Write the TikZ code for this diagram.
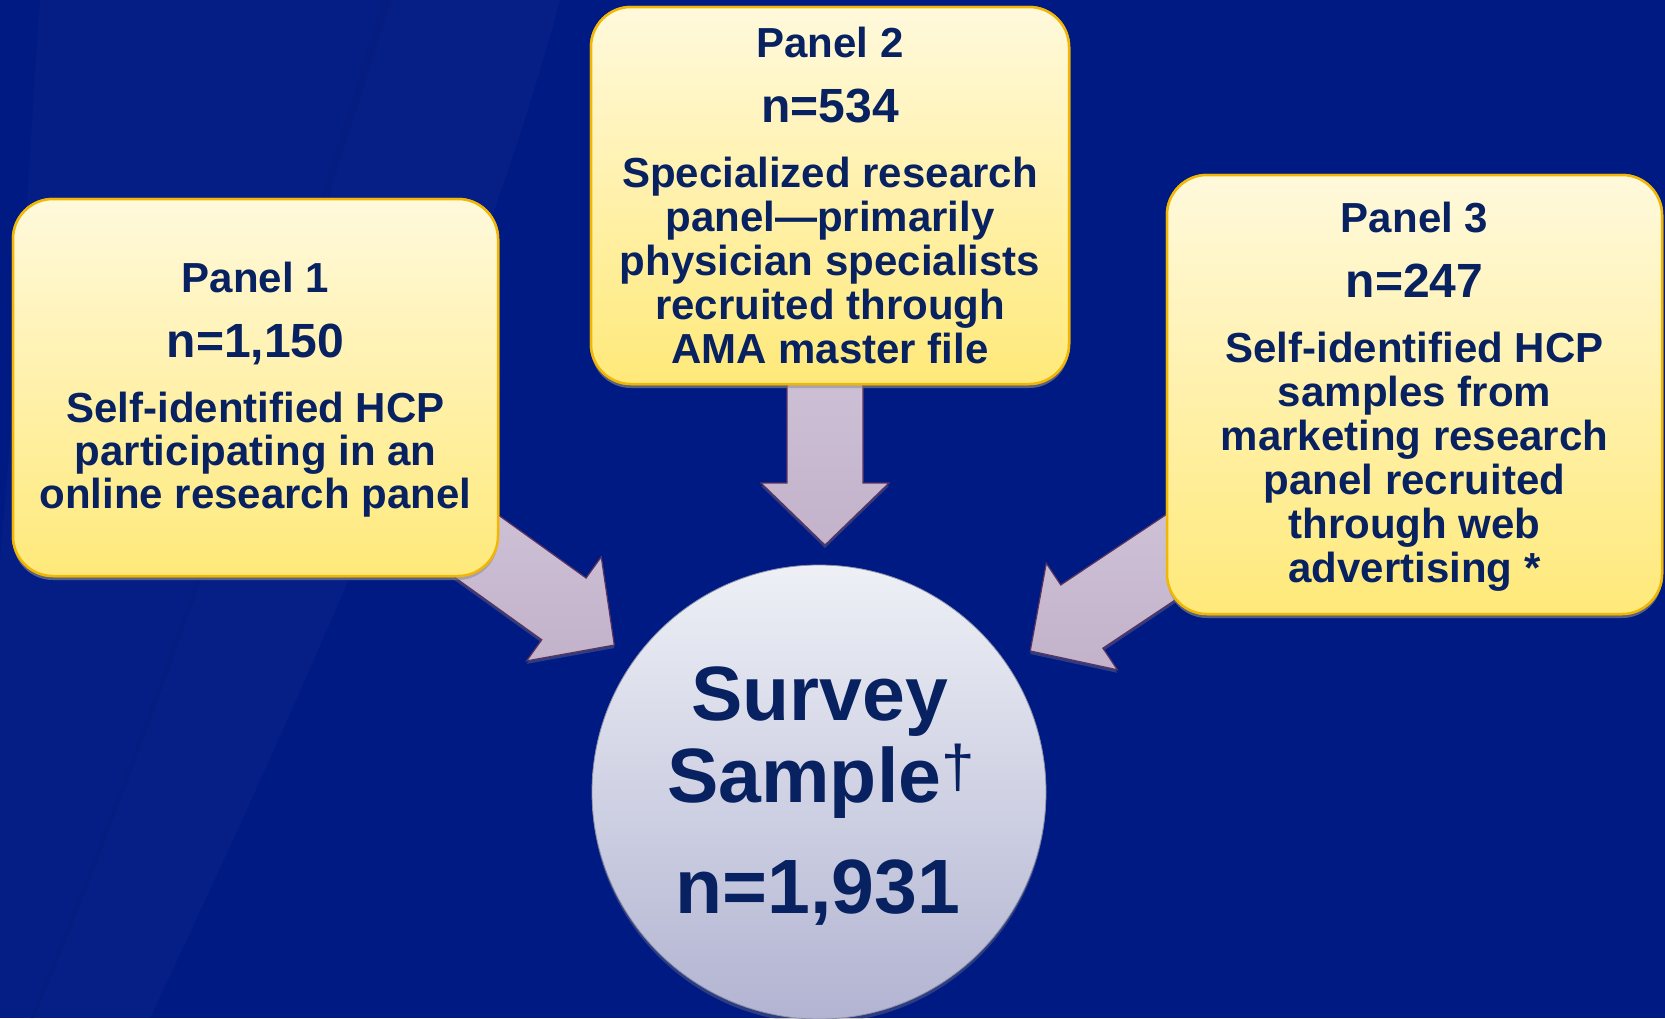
\documentclass[tikz,border=0pt]{standalone}
\usepackage{fontspec}
\setmainfont{Liberation Sans}
\usetikzlibrary{calc,shadows}
\definecolor{bgblue}{HTML}{001A84}
\definecolor{navy}{HTML}{072161}
\definecolor{gold}{HTML}{F2B705}
\definecolor{cream}{HTML}{FFF9DC}
\definecolor{butter}{HTML}{FFE97A}
\definecolor{lavtop}{HTML}{D9CFE1}
\definecolor{lavbot}{HTML}{C2B2CA}
\definecolor{plum}{HTML}{5C3360}
\definecolor{cirtop}{HTML}{EEF0F6}
\definecolor{cirbot}{HTML}{B2B4D2}
\newcommand\blkarrow[3]{% start, tip, name of head-base coordinate
  \coordinate (#3) at ($(#2)!62pt!(#1)$);
  \path[blockarrow] ($(#1)!38pt!90:(#2)$) -- ($(#3)!38pt!90:(#2)$) -- ($(#3)!64pt!90:(#2)$)
    -- (#2) -- ($(#3)!64pt!-90:(#2)$) -- ($(#3)!38pt!-90:(#2)$) -- ($(#1)!38pt!-90:(#2)$) -- cycle;
}
\tikzset{
  panelbox/.style={draw=gold, line width=2.5pt, rounded corners=40pt, top color=cream, bottom color=butter,
    drop shadow={shadow xshift=0pt, shadow yshift=-4pt, opacity=0.45}, inner sep=0pt},
  blockarrow/.style={draw=plum, line width=1.2pt, line join=miter, top color=lavtop, bottom color=lavbot,
    drop shadow={shadow xshift=0pt, shadow yshift=-3pt, opacity=0.35}},
  sample/.style={circle, draw=cirbot!80!black, line width=0.8pt, top color=cirtop, bottom color=cirbot,
    inner sep=0pt, drop shadow={shadow xshift=0pt, shadow yshift=-4pt, opacity=0.35}},
  ptxt/.style={anchor=base, inner sep=0pt, text=navy, font=\fontsize{42}{43.5}\selectfont\bfseries},
  pnum/.style={anchor=base, inner sep=0pt, text=navy, font=\fontsize{48}{50}\selectfont\bfseries},
  ctxt/.style={anchor=base, inner sep=0pt, text=navy, font=\fontsize{77}{80}\selectfont\bfseries},
}
\begin{document}
\begin{tikzpicture}[x=1pt, y=-1pt]
\useasboundingbox (0,0) rectangle (1665,1018);
% background
\fill[bgblue] (0,0) rectangle (1665,1018);
\fill[white, opacity=0.018] (40,0) -- (383,0) .. controls (320,200) and (200,620) .. (0,1090) -- (0,560) .. controls (20,330) and (30,150) .. (40,0) -- cycle;
\fill[white, opacity=0.025] (0,1090) .. controls (200,620) and (320,200) .. (383,0) -- (560,0) .. controls (480,300) and (300,700) .. (150,1018) -- (0,1018) -- cycle;
\fill[black, opacity=0.04] (383,0) .. controls (320,200) and (200,620) .. (0,1090) -- (0,1100) .. controls (205,620) and (325,200) .. (392,0) -- cycle;
% nodes
\node[sample, minimum size=454pt] (c) at (819,792) {};
\node[panelbox, minimum width=485pt, minimum height=377pt] (p1) at (255.5,387.5) {};
\node[panelbox, minimum width=478pt, minimum height=377pt] (p2) at (830,195.5) {};
\node[panelbox, minimum width=495pt, minimum height=439pt] (p3) at (1414.5,394.5) {};
% arrow tips
\coordinate (t1) at ($(c.center)!252pt!(p1.center)$);
\coordinate (t2) at (825,545);
\coordinate (t3) at ($(c.center)!254pt!(p3.center)$);
% arrows (behind boxes)
\begin{scope}
\blkarrow{p1.center}{t1}{h1}
\blkarrow{t2 |- p2.center}{t2}{h2}
\blkarrow{p3.center}{t3}{h3}
\end{scope}
% redraw boxes on top of arrows
\node[panelbox, minimum width=485pt, minimum height=377pt] (p1f) at (p1.center) {};
\node[panelbox, minimum width=478pt, minimum height=377pt] (p2f) at (p2.center) {};
\node[panelbox, minimum width=495pt, minimum height=439pt] (p3f) at (p3.center) {};
% panel 1 text
\node[ptxt] (p1a) at (255.5,292) {Panel 1};
\node[pnum] (p1b) at (255.5,357) {n=1,150};
\node[ptxt] (p1c) at (255.5,422) {Self-identified HCP};
\node[ptxt] (p1d) at (255.5,465) {participating in an};
\node[ptxt] (p1e) at (255.5,508) {online research panel};
% panel 2 text
\node[ptxt] (p2a) at (830,57) {Panel 2};
\node[pnum] (p2b) at (830,122) {n=534};
\node[ptxt] (p2c) at (830,187) {Specialized research};
\node[ptxt] (p2d) at (830,231) {panel—primarily};
\node[ptxt] (p2e) at (830,275) {physician specialists};
\node[ptxt] (p2f) at (830,319) {recruited through};
\node[ptxt] (p2g) at (830,363) {AMA master file};
% panel 3 text
\node[ptxt] (p3a) at (1414.5,232) {Panel 3};
\node[pnum] (p3b) at (1414.5,297) {n=247};
\node[ptxt] (p3c) at (1414.5,362) {Self-identified HCP};
\node[ptxt] (p3d) at (1414.5,406) {samples from};
\node[ptxt] (p3e) at (1414.5,450) {marketing research};
\node[ptxt] (p3f) at (1414.5,494) {panel recruited};
\node[ptxt] (p3g) at (1414.5,538) {through web};
\node[ptxt] (p3h) at (1414.5,582) {advertising *};
% circle text
\node[ctxt] (ca) at (820,720) {Survey};
\node[ctxt] (cb) at (821,802) {Sample\raisebox{15pt}{\fontsize{60}{60}\selectfont\mdseries †}};
\node[ctxt] (cc) at (818,913) {n=1,931};
\end{tikzpicture}
\end{document}
